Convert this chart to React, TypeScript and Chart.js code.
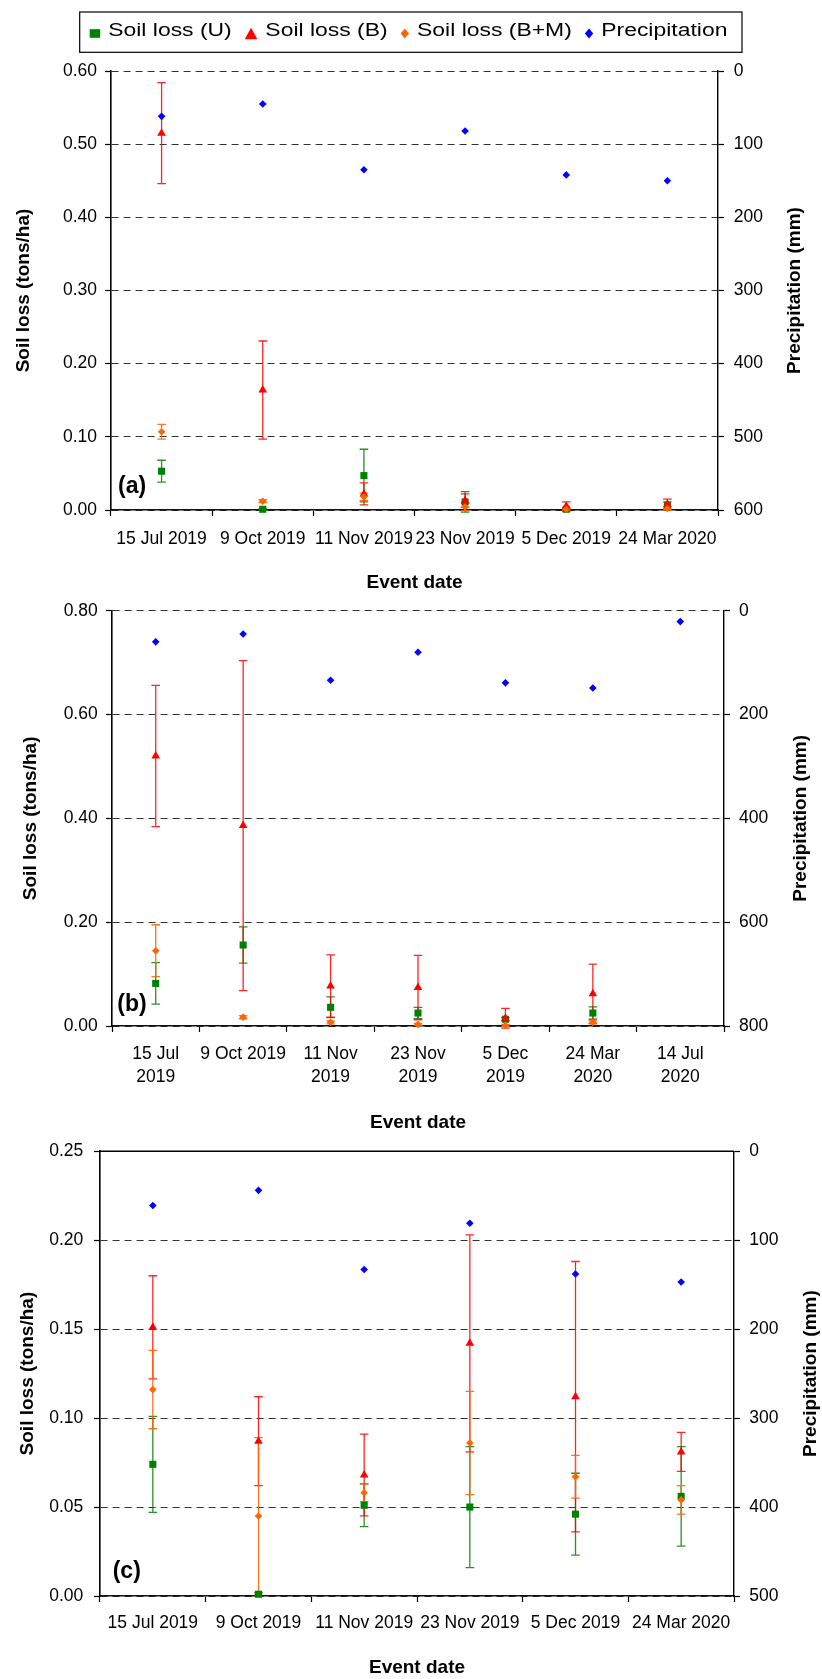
import React, { useEffect, useRef } from 'react';
import { Chart, registerables } from 'chart.js';

Chart.register(...registerables);

const FONT = '"Liberation Sans", Arial, Helvetica, sans-serif';
Chart.defaults.color = '#000';
Chart.defaults.font.family = FONT;

// ---------- texts ----------
const SERIES_NAMES = ['Soil loss (U)', 'Soil loss (B)', 'Soil loss (B+M)', 'Precipitation'];
const SERIES_COLORS = ['#008000', '#FF0000', '#FF6600', '#0000FF'];
const ERROR_COLORS = ['rgba(0,128,0,0.85)', 'rgba(255,0,0,0.85)', 'rgba(255,102,0,0.9)'];
const X_TITLE = 'Event date';
const Y_TITLE = 'Soil loss (tons/ha)';
const Y2_TITLE = 'Precipitation (mm)';

// ---------- panel (a) ----------
const DATES_A = ['15 Jul 2019', '9 Oct 2019', '11 Nov 2019', '23 Nov 2019', '5 Dec 2019', '24 Mar 2020'];
const LOSS_U_A = [0.053, 0.001, 0.047, 0.011, 0.001, 0.006];
const ERR_U_A = [0.015, 0.001, 0.036, 0.014, 0.002, 0.005];
const LOSS_B_A = [0.515, 0.164, 0.022, 0.013, 0.005, 0.008];
const ERR_B_A = [0.069, 0.067, 0.015, 0.009, 0.006, 0.007];
const LOSS_BM_A = [0.107, 0.012, 0.018, 0.004, 0.001, 0.002];
const ERR_BM_A = [0.010, 0.002, 0.005, 0.005, 0.001, 0.002];
const PRECIP_A = [62, 45, 135, 82, 142, 150];
const Y_MAX_A = 0.6, Y_STEP_A = 0.1, P_MAX_A = 600, P_STEP_A = 100;

// ---------- panel (b) ----------
const DATES_B = [['15 Jul', '2019'], '9 Oct 2019', ['11 Nov', '2019'], ['23 Nov', '2019'], ['5 Dec', '2019'], ['24 Mar', '2020'], ['14 Jul', '2020']];
const LOSS_U_B = [0.082, 0.156, 0.036, 0.025, 0.013, 0.025, null];
const ERR_U_B = [0.040, 0.035, 0.020, 0.011, 0.003, 0.012, null];
const LOSS_B_B = [0.520, 0.386, 0.077, 0.074, 0.015, 0.062, null];
const ERR_B_B = [0.136, 0.318, 0.060, 0.062, 0.019, 0.057, null];
const LOSS_BM_B = [0.145, 0.017, 0.007, 0.003, 0.001, 0.007, null];
const ERR_BM_B = [0.050, 0.003, 0.003, 0.002, 0.002, 0.003, null];
const PRECIP_B = [60, 45, 134, 80, 139, 149, 21];
const Y_MAX_B = 0.8, Y_STEP_B = 0.2, P_MAX_B = 800, P_STEP_B = 200;

// ---------- panel (c) ----------
const DATES_C = ['15 Jul 2019', '9 Oct 2019', '11 Nov 2019', '23 Nov 2019', '5 Dec 2019', '24 Mar 2020'];
const LOSS_U_C = [0.074, 0.001, 0.051, 0.050, 0.046, 0.056];
const ERR_U_C = [0.027, 0.001, 0.012, 0.034, 0.023, 0.028];
const LOSS_B_C = [0.151, 0.087, 0.068, 0.142, 0.112, 0.081];
const ERR_B_C = [0.029, 0.025, 0.023, 0.061, 0.076, 0.011];
const LOSS_BM_C = [0.116, 0.045, 0.058, 0.086, 0.067, 0.054];
const ERR_BM_C = [0.022, 0.044, 0.005, 0.029, 0.012, 0.008];
const PRECIP_C = [61, 44, 133, 81, 138, 147];
const Y_MAX_C = 0.25, Y_STEP_C = 0.05, P_MAX_C = 500, P_STEP_C = 100;

// ---------- plugins ----------
const errorBarsPlugin = {
  id: 'errorBars',
  beforeDatasetsDraw(chart: any) {
    const ctx = chart.ctx;
    chart.data.datasets.forEach((ds: any, di: number) => {
      if (!ds.errors) return;
      const meta = chart.getDatasetMeta(di);
      const yScale = chart.scales[meta.yAxisID];
      ctx.save();
      ctx.strokeStyle = ds.errorColor;
      ctx.lineWidth = 1.3;
      const cap = 4.3;
      meta.data.forEach((pt: any, i: number) => {
        const v = ds.data[i];
        const e = ds.errors[i];
        if (v == null || e == null) return;
        const x = pt.x;
        const yT = yScale.getPixelForValue(v + e);
        const yB = yScale.getPixelForValue(v - e);
        ctx.beginPath();
        ctx.moveTo(x, yT); ctx.lineTo(x, yB);
        ctx.moveTo(x - cap, yT); ctx.lineTo(x + cap, yT);
        ctx.moveTo(x - cap, yB); ctx.lineTo(x + cap, yB);
        ctx.stroke();
      });
      ctx.restore();
    });
  },
};

// legend marker sizes [width, height]
const LEGEND_MARKER: Record<string, [number, number]> = {
  rect: [10.5, 8.6],
  triangle: [12.6, 11.5],
  rectRot: [8.4, 10],
};

function drawMarker(ctx: CanvasRenderingContext2D, style: string, x: number, y: number, color: string) {
  const [w, h] = LEGEND_MARKER[style] || LEGEND_MARKER.rectRot;
  ctx.fillStyle = color;
  ctx.beginPath();
  if (style === 'rect') {
    ctx.rect(x - w / 2, y - h / 2, w, h);
  } else if (style === 'triangle') {
    ctx.moveTo(x, y - h / 2);
    ctx.lineTo(x + w / 2, y + h / 2);
    ctx.lineTo(x - w / 2, y + h / 2);
    ctx.closePath();
  } else {
    ctx.moveTo(x, y - h / 2);
    ctx.lineTo(x + w / 2, y);
    ctx.lineTo(x, y + h / 2);
    ctx.lineTo(x - w / 2, y);
    ctx.closePath();
  }
  ctx.fill();
}

const legendBoxPlugin = {
  id: 'legendBox',
  afterDraw(chart: any, _a: any, opts: any) {
    if (!opts || !opts.display) return;
    const ctx = chart.ctx;
    ctx.save();
    ctx.lineWidth = 1.2;
    ctx.strokeStyle = '#000';
    ctx.strokeRect(opts.x, opts.y, opts.w, opts.h);
    ctx.font = `${opts.fontSize}px ${FONT}`;
    ctx.textBaseline = 'middle';
    ctx.textAlign = 'left';
    const sx = opts.stretch;
    let cx = opts.x + opts.startPad;
    chart.data.datasets.forEach((ds: any) => {
      const style = ds.pointStyle;
      const mw = (LEGEND_MARKER[style] || LEGEND_MARKER.rectRot)[0];
      drawMarker(ctx, style, cx + mw / 2, opts.markerY, ds.pointBackgroundColor);
      cx += mw + opts.markerGap;
      ctx.save();
      ctx.translate(cx, opts.textY);
      ctx.scale(sx, 1);
      ctx.fillStyle = '#000';
      ctx.fillText(ds.label, 0, 0);
      ctx.restore();
      cx += ctx.measureText(ds.label).width * sx + opts.itemGap;
    });
    ctx.restore();
  },
};

const panelLabelPlugin = {
  id: 'panelLabel',
  afterDraw(chart: any, _a: any, opts: any) {
    if (!opts || !opts.text) return;
    const { ctx, chartArea } = chart;
    ctx.save();
    ctx.font = `bold 23px ${FONT}`;
    ctx.fillStyle = '#000';
    ctx.textBaseline = 'middle';
    ctx.textAlign = 'left';
    ctx.fillText(opts.text, chartArea.left + opts.dx, chartArea.bottom - opts.dy);
    ctx.restore();
  },
};

const frameTopPlugin = {
  id: 'frameTop',
  afterDraw(chart: any, _a: any, opts: any) {
    if (!opts || !opts.display) return;
    const { ctx, chartArea } = chart;
    ctx.save();
    ctx.strokeStyle = '#000';
    ctx.lineWidth = 1.5;
    ctx.beginPath();
    ctx.moveTo(chartArea.left, chartArea.top);
    ctx.lineTo(chartArea.right, chartArea.top);
    ctx.stroke();
    ctx.restore();
  },
};

const rightTitlePlugin = {
  id: 'rightTitle',
  afterDraw(chart: any, _a: any, opts: any) {
    if (!opts || !opts.text) return;
    const { ctx, chartArea } = chart;
    ctx.save();
    ctx.translate(opts.x, (chartArea.top + chartArea.bottom) / 2);
    ctx.rotate(-Math.PI / 2);
    ctx.font = `bold 19px ${FONT}`;
    ctx.fillStyle = '#000';
    ctx.textAlign = 'center';
    ctx.textBaseline = 'middle';
    ctx.fillText(opts.text, 0, 0);
    ctx.restore();
  },
};

function mk(i: number, data: any[], errors: any[] | null, style: string, r: number, axis: string, order: number) {
  return {
    label: SERIES_NAMES[i],
    data,
    errors,
    errorColor: ERROR_COLORS[i],
    showLine: false,
    pointStyle: style,
    pointRadius: r,
    pointHoverRadius: r,
    pointBackgroundColor: SERIES_COLORS[i],
    pointBorderColor: SERIES_COLORS[i],
    pointBorderWidth: 0,
    backgroundColor: SERIES_COLORS[i],
    borderColor: SERIES_COLORS[i],
    yAxisID: axis,
    order,
    clip: false,
  };
}

function makeConfig(p: any): any {
  const L = p.layout;
  return {
    type: 'line',
    data: {
      labels: p.labels,
      datasets: [
        mk(0, p.u, p.uErr, 'rect', 5, 'y', 4),
        mk(1, p.b, p.bErr, 'triangle', 5, 'y', 3),
        mk(2, p.bm, p.bmErr, 'rectRot', 3.8, 'y', 2),
        mk(3, p.precip, null, 'rectRot', 3.8, 'y2', 1),
      ],
    },
    options: {
      animation: false,
      responsive: false,
      events: [],
      layout: { padding: { top: L.top, left: 0, right: 0, bottom: 0 } },
      plugins: {
        legend: { display: false },
        tooltip: { enabled: false },
        legendBox: p.legend,
        panelLabel: p.panel,
        frameTop: { display: p.topLine },
        rightTitle: { text: Y2_TITLE, x: L.rightTitleX },
      },
      scales: {
        x: {
          type: 'category',
          offset: true,
          grid: { display: true, offset: true, drawOnChartArea: false, drawTicks: true, tickLength: 6, tickColor: '#000', tickWidth: 1.2 },
          border: { display: true, color: '#111', width: 1.6 },
          ticks: { autoSkip: false, maxRotation: 0, minRotation: 0, padding: L.xTickPad, color: '#000', font: { family: FONT, size: 17.5, lineHeight: L.xLineHeight } },
          title: { display: true, text: X_TITLE, color: '#000', font: { family: FONT, size: 19, weight: 'bold' }, padding: { top: 0, bottom: L.xTitlePad } },
          afterFit: (s: any) => { s.height = L.xH; },
        },
        y: {
          position: 'left',
          min: 0,
          max: p.yMax,
          ticks: { stepSize: p.yStep, padding: L.yTickPad, color: '#000', font: { family: FONT, size: 17.5 }, callback: (v: any) => Number(v).toFixed(2) },
          grid: { color: '#333', lineWidth: 1, drawTicks: true, tickLength: 6, tickColor: '#000', tickWidth: 1.2 },
          border: { display: true, color: '#000', width: 1.6, dash: [7, 5] },
          title: { display: true, text: Y_TITLE, color: '#000', font: { family: FONT, size: 19, weight: 'bold' }, padding: { top: L.leftTitlePad, bottom: 0 } },
          afterFit: (s: any) => { s.width = L.leftW; },
        },
        y2: {
          position: 'right',
          reverse: true,
          min: 0,
          max: p.pMax,
          ticks: { stepSize: p.pStep, padding: L.y2TickPad, color: '#000', font: { family: FONT, size: 17.5 }, callback: (v: any) => String(Math.round(Number(v))) },
          grid: { drawOnChartArea: false, drawTicks: true, tickLength: 6, tickColor: '#000', tickWidth: 1.2 },
          border: { display: true, color: '#000', width: 1.4 },
          title: { display: false },
          afterFit: (s: any) => { s.width = L.rightW; },
        },
      },
    },
    plugins: [errorBarsPlugin, legendBoxPlugin, panelLabelPlugin, frameTopPlugin, rightTitlePlugin],
  };
}

const PANELS = [
  {
    top: 0, height: 605,
    labels: DATES_A, u: LOSS_U_A, uErr: ERR_U_A, b: LOSS_B_A, bErr: ERR_B_A, bm: LOSS_BM_A, bmErr: ERR_BM_A, precip: PRECIP_A,
    yMax: Y_MAX_A, yStep: Y_STEP_A, pMax: P_MAX_A, pStep: P_STEP_A,
    layout: { top: 71, leftW: 111, rightW: 104, xH: 95, xTickPad: 12.2, xLineHeight: 1.2, xTitlePad: 10.6, yTickPad: 8, y2TickPad: 9.7, leftTitlePad: 12.6, rightTitleX: 795 },
    legend: { display: true, x: 79.7, y: 12, w: 662.3, h: 40.3, startPad: 10, markerGap: 8, itemGap: 13, fontSize: 17.5, stretch: 1.31, markerY: 33.5, textY: 31 },
    panel: { text: '(a)', dx: 7, dy: 23 },
    topLine: false,
  },
  {
    top: 590, height: 545,
    labels: DATES_B, u: LOSS_U_B, uErr: ERR_U_B, b: LOSS_B_B, bErr: ERR_B_B, bm: LOSS_BM_B, bmErr: ERR_BM_B, precip: PRECIP_B,
    yMax: Y_MAX_B, yStep: Y_STEP_B, pMax: P_MAX_B, pStep: P_STEP_B,
    layout: { top: 20.7, leftW: 112, rightW: 98, xH: 109, xTickPad: 10.2, xLineHeight: 1.35, xTitlePad: 1.1, yTickPad: 8.3, y2TickPad: 9, leftTitlePad: 19.1, rightTitleX: 801 },
    legend: { display: false },
    panel: { text: '(b)', dx: 5.3, dy: 21 },
    topLine: false,
  },
  {
    top: 1130, height: 549,
    labels: DATES_C, u: LOSS_U_C, uErr: ERR_U_C, b: LOSS_B_C, bErr: ERR_B_C, bm: LOSS_BM_C, bmErr: ERR_BM_C, precip: PRECIP_C,
    yMax: Y_MAX_C, yStep: Y_STEP_C, pMax: P_MAX_C, pStep: P_STEP_C,
    layout: { top: 18.3, leftW: 100, rightW: 88, xH: 83, xTickPad: 10.5, xLineHeight: 1.2, xTitlePad: 0, yTickPad: 10.7, y2TickPad: 9.3, leftTitlePad: 16.6, rightTitleX: 811 },
    legend: { display: false },
    panel: { text: '(c)', dx: 12.7, dy: 24 },
    topLine: true,
  },
];

function Panel({ p }: { p: any }) {
  const ref = useRef<HTMLCanvasElement>(null);
  useEffect(() => {
    if (!ref.current) return;
    const chart = new Chart(ref.current, makeConfig(p));
    return () => chart.destroy();
  }, [p]);
  return (
    <canvas
      ref={ref}
      width={822}
      height={p.height}
      style={{ position: 'absolute', left: 0, top: p.top, width: 822, height: p.height, display: 'block' }}
    />
  );
}

export default function App() {
  useEffect(() => {
    document.body.style.margin = '0';
  }, []);
  return (
    <div style={{ position: 'absolute', left: 0, top: 0, width: 822, height: 1679, background: '#fff', overflow: 'hidden' }}>
      {PANELS.map((p, i) => (
        <Panel key={i} p={p} />
      ))}
    </div>
  );
}
